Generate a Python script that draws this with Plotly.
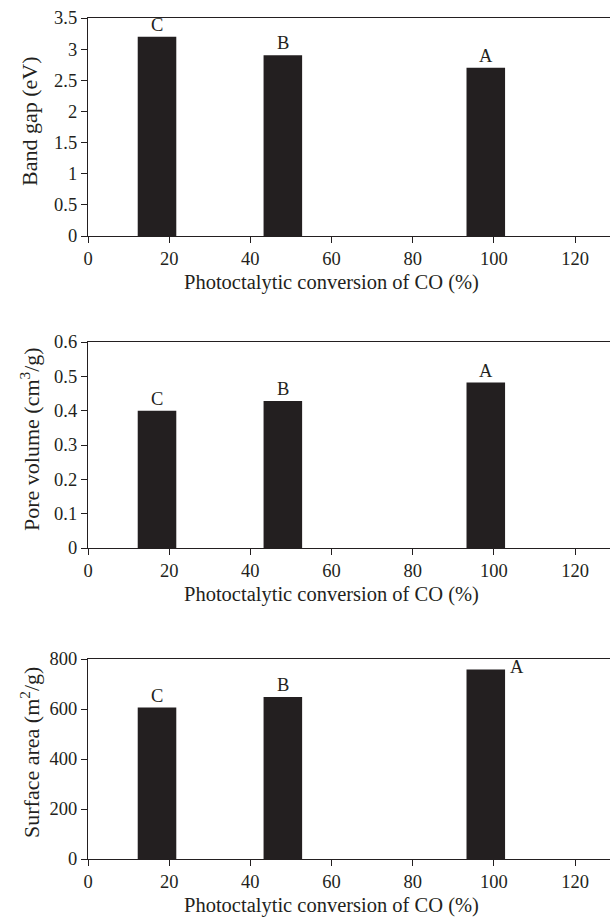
import plotly.graph_objects as go

# Samples and their CO conversion (%)
samples = ["C", "B", "A"]
conversion = [17, 48, 98]

band_gap = [3.2, 2.9, 2.7]            # eV
pore_volume = [0.40, 0.428, 0.482]    # cm3/g
surface_area = [606, 648, 758]        # m2/g

x_ticks = [0, 20, 40, 60, 80, 100, 120]
bar_width = 9.5

FONT = "Liberation Serif"
INK = "#231f20"

W, H = 610, 917
M_L, M_R, M_T, M_B = 88, 0, 18, 58
plot_h = H - M_T - M_B

def frac(px_top, px_bottom):
    return [(H - M_B - px_bottom) / plot_h, (H - M_B - px_top) / plot_h]

panels = [
    dict(values=band_gap, title="Band gap (eV)", rng=[0, 3.5], dtick=0.5,
         dom=frac(18, 236)),
    dict(values=pore_volume, title="Pore volume (cm<sup>3</sup>/g)", rng=[0, 0.6], dtick=0.1,
         dom=frac(342, 548)),
    dict(values=surface_area, title="Surface area (m<sup>2</sup>/g)", rng=[0, 800], dtick=200,
         dom=frac(659, 859)),
]

fig = go.Figure()
annotations = []
layout = {}

for i, p in enumerate(panels, start=1):
    xa = "x" if i == 1 else f"x{i}"
    ya = "y" if i == 1 else f"y{i}"
    fig.add_trace(go.Bar(
        x=conversion, y=p["values"], width=bar_width,
        marker=dict(color=INK, line=dict(width=0)),
        xaxis=xa, yaxis=ya, showlegend=False, hoverinfo="skip",
    ))
    layout["xaxis" if i == 1 else f"xaxis{i}"] = dict(
        domain=[0, 1], anchor=ya, range=[0, 128.6],
        tickmode="array", tickvals=x_ticks,
        ticks="outside", ticklen=6, tickwidth=1, tickcolor=INK,
        showline=True, linecolor=INK, linewidth=1.2, mirror=True,
        showgrid=False, zeroline=False,
        tickfont=dict(family=FONT, size=18.5, color=INK),
    )
    layout["yaxis" if i == 1 else f"yaxis{i}"] = dict(
        domain=p["dom"], anchor=xa, range=p["rng"],
        tick0=0, dtick=p["dtick"],
        ticks="outside", ticklen=6, tickwidth=1, tickcolor=INK,
        showline=True, linecolor=INK, linewidth=1.2,
        showgrid=False, zeroline=False,
        tickfont=dict(family=FONT, size=18.5, color=INK),
    )
    ydom = (p["dom"][0] + p["dom"][1]) / 2
    # y-axis title
    annotations.append(dict(
        text=p["title"], xref="paper", yref="paper", x=0, y=ydom,
        xanchor="center", yanchor="middle", xshift=-58, yshift=6,
        textangle=-90, showarrow=False,
        font=dict(family=FONT, size=22, color=INK),
    ))
    # x-axis title
    annotations.append(dict(
        text="Photoctalytic conversion of CO (%)", xref=xa, yref="paper",
        x=60, y=p["dom"][0], xanchor="center", yanchor="top", yshift=-33,
        showarrow=False, font=dict(family=FONT, size=20.5, color=INK),
    ))
    # sample letters on the bars
    for s, xv, yv in zip(samples, conversion, p["values"]):
        if i == 3 and s == "A":
            annotations.append(dict(
                text=s, xref=xa, yref=ya, x=xv + bar_width / 2, y=yv,
                xanchor="left", yanchor="middle", xshift=3, yshift=3,
                showarrow=False, font=dict(family=FONT, size=18.5, color=INK),
            ))
        else:
            annotations.append(dict(
                text=s, xref=xa, yref=ya, x=xv, y=yv,
                xanchor="center", yanchor="bottom", yshift=0,
                showarrow=False, font=dict(family=FONT, size=18.5, color=INK),
            ))

fig.update_layout(
    width=W, height=H,
    margin=dict(l=M_L, r=M_R, t=M_T, b=M_B, pad=0),
    paper_bgcolor="white", plot_bgcolor="white",
    annotations=annotations,
    **layout,
)

fig.write_html("out.html")
